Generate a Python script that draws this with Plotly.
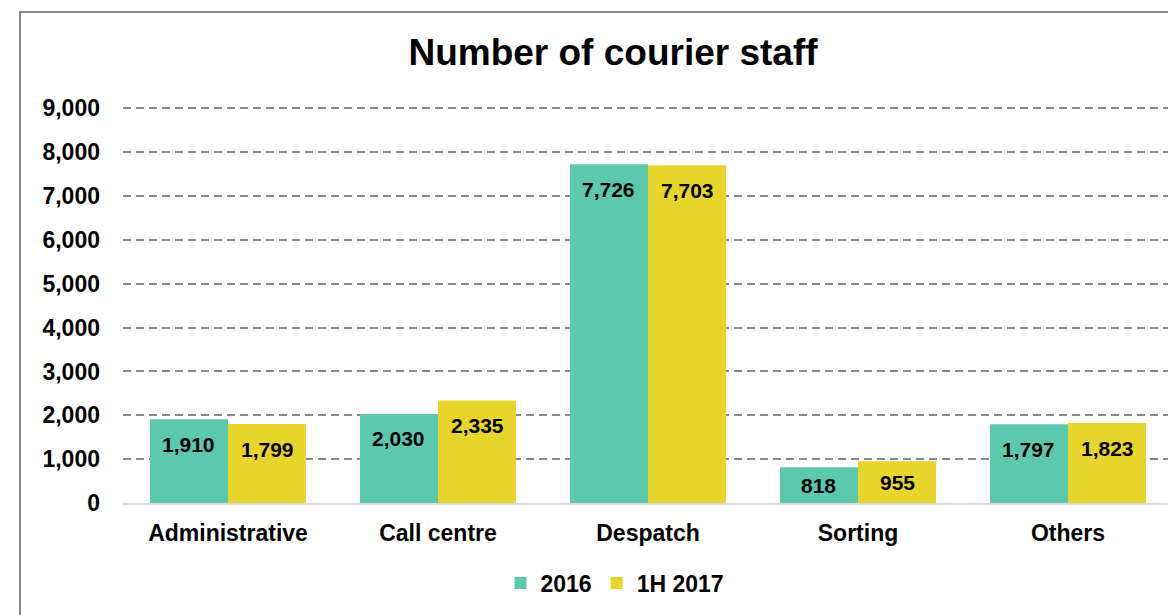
import plotly.graph_objects as go

categories = ["Administrative", "Call centre", "Despatch", "Sorting", "Others"]
staff_2016 = [1910, 2030, 7726, 818, 1797]
staff_1h2017 = [1799, 2335, 7703, 955, 1823]
series_names = ["2016", "1H 2017"]
y_ticks = list(range(0, 9001, 1000))

TEAL = "#5CC9AE"
YELLOW = "#E8D52B"
FONT = "Arial, Liberation Sans, sans-serif"

W, H = 1176, 615
OFF = 8  # page body margin
Y_TOP = 9100  # a little headroom so the 9,000 gridline is drawn
px_per_unit = (503 - 108) / 9000
top_px = 108 - (Y_TOP - 9000) * px_per_unit
M = dict(l=123 - OFF, r=W - (1173 - OFF), t=round(top_px - OFF), b=H - (503 - OFF))
BARGAP = 0.257
plot_w = W - M["l"] - M["r"]
plot_h = H - M["t"] - M["b"]
px_per_unit = plot_h / Y_TOP


def px_x(x):  # viewport pixel -> paper x
    return (x - OFF - M["l"]) / plot_w


def px_y(y):  # viewport pixel -> paper y
    return (H - M["b"] - (y - OFF)) / plot_h


fig = go.Figure()
for name, vals, col in [(series_names[0], staff_2016, TEAL), (series_names[1], staff_1h2017, YELLOW)]:
    fig.add_trace(go.Bar(x=categories, y=vals, name=name, marker=dict(color=col, line=dict(width=0)),
                         hoverinfo="x+y"))

# value labels inside bar tops
quarter = (1 - BARGAP) / 4
for k, vals in enumerate([staff_2016, staff_1h2017]):
    off = -quarter if k == 0 else quarter
    for j, v in enumerate(vals):
        shift = min(25, v * px_per_unit / 2)
        fig.add_annotation(x=j + off, y=v, xref="x", yref="y", text=f"{v:,}", showarrow=False,
                           yshift=-shift, font=dict(family=FONT, size=21, color="#000", weight="bold"))

# chart border (left / top visible)
fig.add_shape(type="rect", xref="paper", yref="paper",
              x0=px_x(20), x1=1.2, y0=-1, y1=px_y(12),
              line=dict(color="#8A8A8A", width=2), fillcolor="rgba(0,0,0,0)", layer="below")

fig.update_layout(
    width=W, height=H, margin=M,
    paper_bgcolor="white", plot_bgcolor="white",
    barmode="group", bargap=BARGAP, bargroupgap=0,
    title=dict(text="Number of courier staff", x=px_x(613), xref="paper",
               xanchor="center", y=1 - (52 - OFF) / H, yanchor="middle",
               font=dict(family=FONT, size=37, color="#000", weight="bold")),
    legend=dict(orientation="h", x=px_x(615), xanchor="center",
                y=px_y(583), yanchor="middle",
                font=dict(family=FONT, size=23, color="#000", weight="bold"),
                itemwidth=30, tracegroupgap=0),
    showlegend=True,
)
fig.update_xaxes(showgrid=False, showline=True, linecolor="#D9D9D9", linewidth=2,
                 ticks="", ticklabelstandoff=8,
                 tickfont=dict(family=FONT, size=23, color="#000", weight="bold"))
fig.update_yaxes(range=[0, Y_TOP], tickvals=y_ticks, tickformat=",", showgrid=True,
                 gridcolor="#8A8A8A", gridwidth=1.5, griddash="8px,5px", zeroline=False,
                 showline=False, ticks="", ticklabelstandoff=22,
                 tickfont=dict(family=FONT, size=23, color="#000", weight="bold"))

fig.write_html("out.html")
